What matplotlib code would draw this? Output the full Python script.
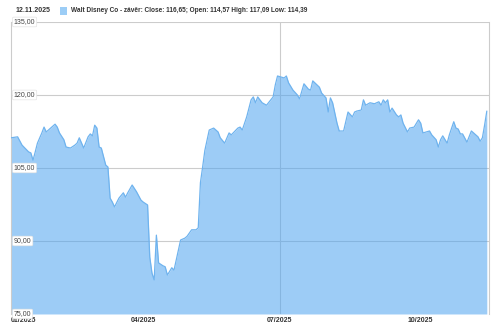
import matplotlib
matplotlib.use("Agg")
import matplotlib.pyplot as plt

# trading session number (0 = 2.1.2025) and close prices
session = [0, 3, 5, 8, 9, 10, 11, 12, 14, 15, 16, 18, 20, 21, 22, 24, 25, 27, 29, 30,
           31, 33, 35, 36, 37, 38, 39, 40, 41, 43, 44, 45, 46, 47, 49, 51, 52, 53, 55, 57,
           59, 60, 62, 63, 64, 65, 66, 67, 69, 70, 71, 73, 74, 75, 77, 79, 80, 82, 84, 85,
           86, 87, 88, 90, 92, 94, 95, 97, 99, 100, 103, 104, 105, 107, 109, 110, 111, 112, 114, 116,
           119, 120, 121, 124, 125, 126, 128, 130, 131, 133, 135, 136, 137, 140, 141, 143, 144, 145, 146, 148,
           149, 151, 153, 155, 156, 157, 159, 160, 161, 163, 165, 167, 168, 169, 170, 171, 172, 173, 175, 176,
           177, 178, 180, 181, 183, 185, 186, 187, 190, 191, 193, 194, 195, 196, 198, 199, 201, 202, 203, 204,
           205, 207, 209, 210, 212, 213, 214, 215, 216]
close = [111.2, 111.4, 109.7, 108.3, 108.1, 106.6, 108.3, 110.1, 112.2, 113.4, 112.4, 113.2, 114.0, 113.4, 112.2, 110.8, 109.3, 109.1, 109.7, 110.1,
         111.2, 109.1, 111.4, 112.0, 111.6, 113.8, 113.2, 109.3, 109.1, 105.6, 105.2, 98.8, 98.0, 97.0, 98.8, 99.9, 99.0, 99.9, 101.5, 100.1,
         98.4, 98.0, 97.4, 86.7, 83.4, 82.0, 91.2, 85.5, 84.9, 84.7, 83.0, 84.5, 84.0, 86.1, 90.2, 90.6, 91.0, 92.3, 92.3, 92.7,
         102.0, 105.2, 108.6, 112.8, 113.2, 112.4, 111.2, 110.1, 112.2, 111.8, 113.2, 113.4, 112.8, 115.5, 119.0, 119.6, 118.4, 119.6, 118.4, 117.9,
         119.6, 122.1, 123.9, 123.5, 123.9, 122.5, 121.0, 120.0, 119.2, 122.3, 121.2, 121.0, 122.9, 121.6, 120.4, 119.4, 116.5, 119.4, 118.4, 114.2,
         112.6, 112.6, 116.5, 115.5, 116.5, 116.7, 116.9, 119.0, 117.9, 118.4, 118.2, 118.6, 117.9, 119.0, 118.4, 119.0, 116.5, 117.3, 115.9, 115.5,
         115.9, 114.2, 112.4, 113.2, 113.4, 114.9, 114.2, 112.2, 112.6, 111.8, 110.8, 109.3, 110.8, 111.6, 110.1, 111.8, 114.5, 113.2, 113.0, 112.0,
         112.0, 110.3, 112.6, 112.2, 111.4, 110.5, 111.2, 113.8, 116.65]

tick_sessions = [0, 60, 122, 186]
tick_labels = ["01/2025", "04/2025", "07/2025", "10/2025"]
y_levels = [75, 90, 105, 120, 135]
y_labels = ["75,00", "90,00", "105,00", "120,00", "135,00"]

header_date = "12.11.2025"
header_text = "Walt Disney Co - závěr: Close: 116,65; Open: 114,57 High: 117,09 Low: 114,39"

plt.rcParams['font.family'] = ['Liberation Sans', 'DejaVu Sans']

fig = plt.figure(figsize=(5, 3.27), dpi=100)
ax = fig.add_axes([0.022, 0.0398, 0.956, 0.893])

for y in y_levels[1:]:
    ax.axhline(y, color='#cccccc', lw=0.8, zorder=1)
ax.axvline(122, color='#cccccc', lw=0.8, zorder=1)

ax.fill_between(session, close, 75, color='#4da3f0', alpha=0.55, lw=0, zorder=2)
ax.plot(session, close, color='#6fb3ee', lw=0.9, zorder=3)

ax.set_xlim(0, 217)
ax.set_ylim(75, 135)

ax.set_yticks([])
for y, lab in zip(y_levels, y_labels):
    ax.text(0.006, y, lab, transform=ax.get_yaxis_transform(), ha='left', va='center',
            fontsize=5, color='#444444', zorder=5, clip_on=False,
            bbox=dict(boxstyle='round,pad=0.2', fc='white', ec='#dddddd', lw=0.4))

ax.set_xticks(tick_sessions)
ax.set_xticklabels(tick_labels, fontsize=5, fontweight='bold', color='#333333')
ax.get_xticklabels()[0].set_horizontalalignment('left')
ax.tick_params(axis='x', length=0, pad=2.5)

for side in ['top', 'bottom']:
    ax.spines[side].set_visible(False)
for side in ['left', 'right']:
    ax.spines[side].set_color('#cccccc')
    ax.spines[side].set_linewidth(0.8)

fig.text(0.032, 0.968, header_date, fontsize=5, fontweight='bold', color='#333333', va='center')
fig.patches.append(plt.Rectangle((0.12, 0.955), 0.014, 0.024, transform=fig.transFigure,
                                 fc='#9ccdf6', ec='none'))
fig.text(0.142, 0.968, header_text, fontsize=4.7, fontweight='bold', color='#333333', va='center')

fig.savefig("out.png", dpi=100)
